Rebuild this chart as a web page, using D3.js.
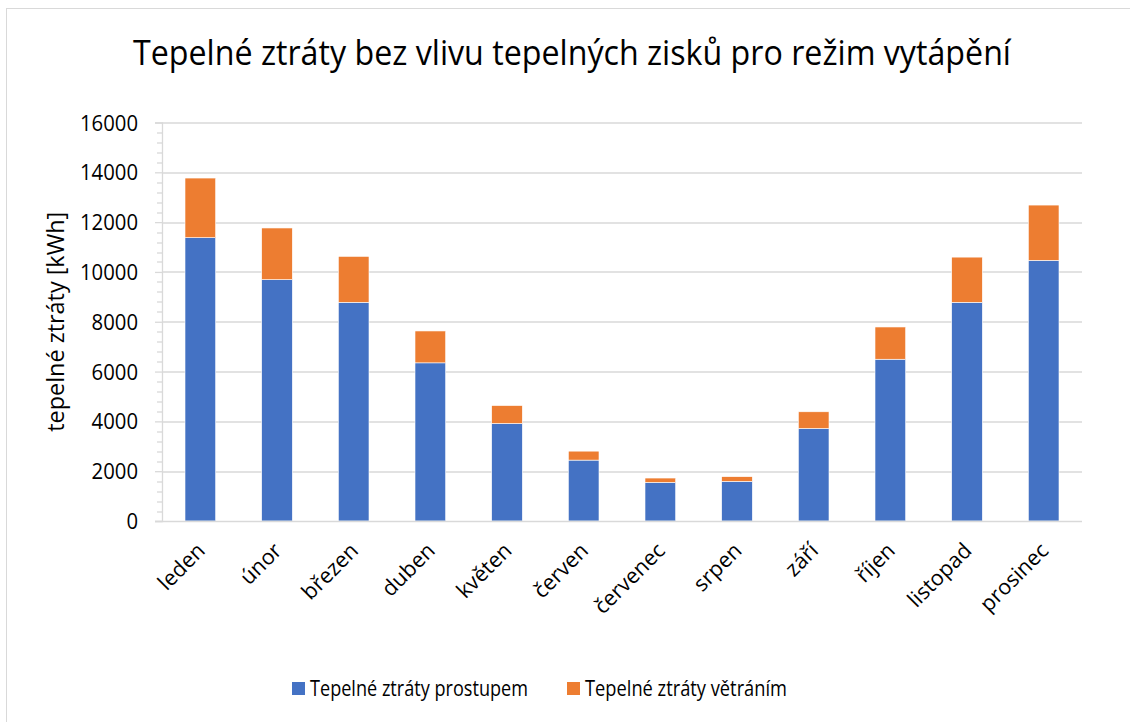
<!DOCTYPE html>
<html>
<head>
<meta charset="utf-8">
<script src="https://cdn.jsdelivr.net/npm/d3@7"></script>
<style>
  html, body { margin: 0; padding: 0; background: #fff; }
  svg { display: block; font-family: "Open Sans", "Noto Sans", sans-serif; }
</style>
</head>
<body>
<svg id="chart" width="1130" height="722"></svg>
<script>
const categories = ["leden", "únor", "březen", "duben", "květen", "červen", "červenec", "srpen", "září", "říjen", "listopad", "prosinec"];
const prostupem = [11375, 9690, 8780, 6350, 3915, 2445, 1550, 1590, 3715, 6495, 8780, 10465];
const vetranim  = [2395, 2075, 1845, 1280, 720, 360, 175, 190, 670, 1295, 1815, 2220];
const seriesNames = ["Tepelné ztráty prostupem", "Tepelné ztráty větráním"];
const seriesColors = ["#4472C4", "#ED7D31"];
const yTicks = [0, 2000, 4000, 6000, 8000, 10000, 12000, 14000, 16000];
const titleText = "Tepelné ztráty bez vlivu tepelných zisků pro režim vytápění";
const yAxisTitle = "tepelné ztráty [kWh]";

const svg = d3.select("#chart");
const W = 1130, H = 722;
const margin = {left: 162, right: 48, top: 122.5, bottom: 201};
const plotW = W - margin.left - margin.right;
const plotH = H - margin.top - margin.bottom;

// chart border (right/bottom edges beyond view)
svg.append("rect").attr("x", 6.5).attr("y", 8.5).attr("width", 1200).attr("height", 800)
  .attr("fill", "#fff").attr("stroke", "#D9D9D9").attr("stroke-width", 1);

function squeeze(sel, target) {
  const len = sel.node().getComputedTextLength();
  if (len > target) sel.attr("textLength", target).attr("lengthAdjust", "spacingAndGlyphs");
}

// title
const title = svg.append("text").attr("x", 572).attr("y", 65).attr("text-anchor", "middle")
  .attr("font-size", 35).attr("fill", "#000").text(titleText);
squeeze(title, 878);

const g = svg.append("g").attr("transform", `translate(${margin.left},${margin.top})`);

const x = d3.scaleBand().domain(categories).range([0, plotW]).paddingInner(0.6).paddingOuter(0.3);
const y = d3.scaleLinear().domain([0, 16000]).range([plotH, 0]);

// gridlines
g.append("g").selectAll("line").data(yTicks.filter(d => d > 0)).join("line")
  .attr("x1", 0).attr("x2", plotW)
  .attr("y1", d => Math.round(y(d)) + 0.5).attr("y2", d => Math.round(y(d)) + 0.5)
  .attr("stroke", "#D9D9D9").attr("stroke-width", 1.3);

// minor ticks
const minor = d3.range(0, 16001, 400).filter(d => d % 2000 !== 0);
g.append("g").selectAll("line").data(minor).join("line")
  .attr("x1", -5).attr("x2", 0)
  .attr("y1", d => Math.round(y(d)) + 0.5).attr("y2", d => Math.round(y(d)) + 0.5)
  .attr("stroke", "#D9D9D9").attr("stroke-width", 1.3);

// y axis
const yAxis = g.append("g").call(d3.axisLeft(y).tickValues(yTicks).tickSize(7).tickPadding(17).tickFormat(d3.format("d")));
yAxis.select(".domain").attr("stroke", "#D9D9D9").attr("stroke-width", 1.3);
yAxis.selectAll(".tick line").attr("stroke", "#D9D9D9").attr("stroke-width", 1.3);
yAxis.selectAll(".tick text").attr("font-size", 21).attr("fill", "#000")
  .attr("font-family", "'Open Sans', sans-serif").attr("dy", "0.36em")
  .each(function() { squeeze(d3.select(this), this.textContent.length * 11.6); });

// stacked bars
const rows = categories.map((c, i) => ({cat: c, prostupem: prostupem[i], vetranim: vetranim[i]}));
const stack = d3.stack().keys(["prostupem", "vetranim"])(rows);
g.append("g").selectAll("g").data(stack).join("g")
  .attr("fill", (d, i) => seriesColors[i])
  .selectAll("rect").data(d => d).join("rect")
  .attr("x", d => x(d.data.cat)).attr("width", x.bandwidth())
  .attr("y", d => y(d[1])).attr("height", d => y(d[0]) - y(d[1]))
  .attr("stroke", "#fff").attr("stroke-width", 0.6);

// x axis
const xAxis = g.append("g").attr("transform", `translate(0,${plotH})`)
  .call(d3.axisBottom(x).tickSize(0).tickPadding(0));
xAxis.select(".domain").attr("stroke", "#D9D9D9").attr("stroke-width", 1.3).attr("d", `M-7,0.5H${plotW}`);
xAxis.selectAll(".tick text")
  .attr("font-size", 21.5).attr("fill", "#000").attr("font-family", "'Open Sans', sans-serif")
  .attr("text-anchor", "end").attr("dy", 0).attr("y", 0)
  .attr("transform", "translate(6,31) rotate(-45)");

// y axis title
const yt = svg.append("text").attr("transform", `translate(64,${margin.top + plotH / 2}) rotate(-90)`)
  .attr("text-anchor", "middle").attr("font-size", 24).attr("fill", "#000").text(yAxisTitle);
squeeze(yt, 220);

// legend
const legX = [292, 567], legTextW = [218, 202];
const leg = svg.append("g").selectAll("g").data(seriesNames).join("g")
  .attr("transform", (d, i) => `translate(${legX[i]},682)`);
leg.append("rect").attr("width", 13).attr("height", 13).attr("fill", (d, i) => seriesColors[i]);
leg.append("text").attr("x", 18).attr("y", 14).attr("font-size", 21).attr("fill", "#000")
  .text(d => d).each(function(d, i) { squeeze(d3.select(this), legTextW[i]); });
</script>
</body>
</html>
